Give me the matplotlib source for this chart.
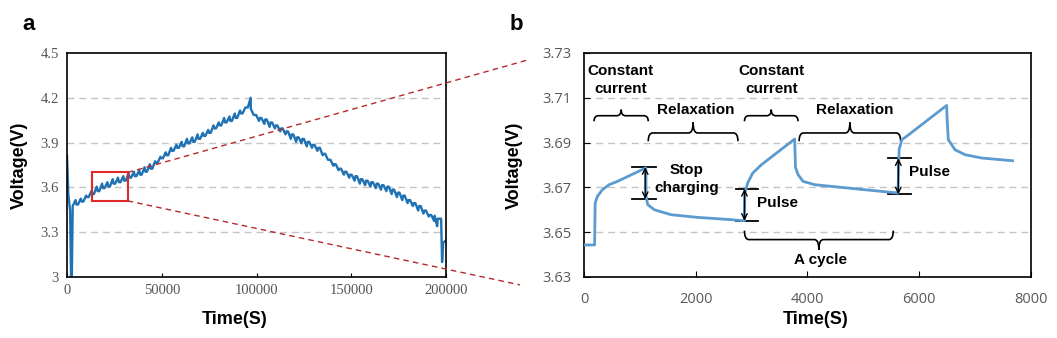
import numpy as np
import matplotlib
matplotlib.use('Agg')
import matplotlib.pyplot as plt
from matplotlib.path import Path
from matplotlib.patches import PathPatch, Rectangle

# ---------------- panel a: full charge / discharge ----------------
head_t = [0, 700, 1600, 2200, 2500]
head_v = [3.81, 3.55, 3.45, 2.95, 2.95]

charge_start = 3000
cycle_period = 2800
charge_low = [3.475, 3.485, 3.505, 3.535, 3.555, 3.575, 3.595, 3.605, 3.625, 3.635,
              3.645, 3.665, 3.675, 3.685, 3.705, 3.725, 3.765, 3.795, 3.815, 3.845,
              3.865, 3.875, 3.895, 3.905, 3.925, 3.945, 3.965, 3.995, 4.015, 4.035,
              4.045, 4.065, 4.095, 4.135]
charge_high = [3.515, 3.525, 3.545, 3.575, 3.605, 3.625, 3.635, 3.655, 3.665, 3.675,
               3.695, 3.705, 3.715, 3.735, 3.755, 3.775, 3.805, 3.835, 3.865, 3.885,
               3.905, 3.925, 3.935, 3.955, 3.965, 3.985, 4.015, 4.035, 4.065, 4.075,
               4.095, 4.115, 4.135, 4.20]

discharge_start = 97000
discharge_high = [4.125, 4.085, 4.065, 4.055, 4.035, 4.015, 3.995, 3.975, 3.955, 3.935,
                  3.925, 3.905, 3.885, 3.865, 3.825, 3.785, 3.755, 3.725, 3.705, 3.685,
                  3.675, 3.655, 3.645, 3.635, 3.625, 3.615, 3.605, 3.585, 3.565, 3.545,
                  3.515, 3.495, 3.475, 3.445, 3.415]
discharge_low = [4.085, 4.045, 4.025, 4.005, 3.995, 3.975, 3.955, 3.925, 3.905, 3.895,
                 3.875, 3.865, 3.845, 3.815, 3.785, 3.745, 3.715, 3.685, 3.665, 3.645,
                 3.625, 3.615, 3.605, 3.595, 3.585, 3.575, 3.555, 3.535, 3.515, 3.495,
                 3.475, 3.445, 3.425, 3.405, 3.375]

tail_t = [194000, 195300, 195600, 197400, 197900, 198500, 200000]
tail_v = [3.41, 3.34, 3.39, 3.39, 3.10, 3.23, 3.245]

# ---------------- panel b: zoom on a few pulses ----------------
zoom_t = [0, 190, 200, 240, 330, 450, 600, 1107, 1112, 1140, 1260, 1560, 2040,
          2630, 2870, 2880, 2930, 3020, 3170, 3770, 3785, 3830, 3920, 4130,
          4730, 5330, 5620, 5640, 5690, 5810, 6490, 6500, 6520, 6640, 6820,
          7120, 7670]
zoom_v = [3.6443, 3.6443, 3.6630, 3.6660, 3.6690, 3.6712, 3.6727, 3.6787,
          3.6660, 3.6623, 3.6600, 3.6578, 3.6566, 3.6556, 3.6551, 3.6675,
          3.6720, 3.6764, 3.6800, 3.6916, 3.6790, 3.6757, 3.6727, 3.6712,
          3.6697, 3.6682, 3.6675, 3.6870, 3.6913, 3.6935, 3.7066, 3.7000,
          3.6913, 3.6868, 3.6846, 3.6831, 3.6819]


def build_overview():
    t, v = list(head_t), list(head_v)
    n = len(charge_low)
    for i in range(n):
        t0 = charge_start + i * cycle_period
        t += [t0, t0 + 1500]
        v += [charge_low[i], charge_high[i]]
        if i < n - 1:
            t.append(t0 + 2000)
            v.append(charge_low[i + 1])
    n = len(discharge_high)
    for j in range(n):
        t0 = discharge_start + j * cycle_period
        t += [t0, t0 + 1500]
        v += [discharge_high[j], discharge_low[j]]
        if j < n - 1:
            t.append(t0 + 2000)
            v.append(discharge_high[j + 1])
    t += tail_t
    v += tail_v
    return t, v


def brace(ax, x0, x1, y_end, y_bar, y_tip, d=80):
    xc = (x0 + x1) / 2
    verts = [(x0, y_end), (x0, y_bar), (x0 + d, y_bar), (xc - d, y_bar),
             (xc, y_bar), (xc, y_tip), (xc, y_bar), (xc + d, y_bar),
             (x1 - d, y_bar), (x1, y_bar), (x1, y_end)]
    codes = [Path.MOVETO, Path.CURVE3, Path.CURVE3, Path.LINETO,
             Path.CURVE3, Path.CURVE3, Path.CURVE3, Path.CURVE3,
             Path.LINETO, Path.CURVE3, Path.CURVE3]
    ax.add_patch(PathPatch(Path(verts, codes), fill=False, lw=1.2,
                           edgecolor='black'))


def pulse_marker(ax, x0, x1, xa, y_top, y_bot):
    ax.plot([x0, x1], [y_top, y_top], color='black', lw=1.3)
    ax.plot([x0, x1], [y_bot, y_bot], color='black', lw=1.3)
    ax.annotate('', xy=(xa, y_top), xytext=(xa, y_bot),
                arrowprops=dict(arrowstyle='<->', lw=1.0, color='black',
                                shrinkA=0, shrinkB=0))


bold = dict(family='Liberation Sans', weight='bold')
grid_kw = dict(color='#c4c4c4', lw=1.0, ls=(0, (5, 3.5)))

fig = plt.figure(figsize=(10.57, 3.38), dpi=100)
ax1 = fig.add_axes([0.0634, 0.1805, 0.3586, 0.6627])
ax2 = fig.add_axes([0.5525, 0.1805, 0.4229, 0.6627])

# panel a
ot, ov = build_overview()
ax1.plot(ot, ov, color='#1f72b4', lw=1.7)
ax1.set_xlim(0, 200000)
ax1.set_ylim(3.0, 4.5)
ax1.set_xticks([0, 50000, 100000, 150000, 200000])
ax1.set_yticks([3.0, 3.3, 3.6, 3.9, 4.2, 4.5])
ax1.set_yticklabels(['3', '3.3', '3.6', '3.9', '4.2', '4.5'])
for y in [3.3, 3.6, 3.9, 4.2]:
    ax1.axhline(y, zorder=0, **grid_kw)
ax1.tick_params(axis='x', direction='in', length=3, pad=5, labelsize=10.5,
                labelcolor='#555555')
ax1.tick_params(axis='y', length=0, pad=6, labelsize=10.5, labelcolor='#555555')
for lab in ax1.get_xticklabels() + ax1.get_yticklabels():
    lab.set_family('Liberation Serif')
ax1.set_xlabel('Time(S)', fontsize=13, **bold)
ax1.set_ylabel('Voltage(V)', fontsize=13, **bold)
ax1.xaxis.set_label_coords(0.443, -0.15)
ax1.yaxis.set_label_coords(-0.102, 0.5)

ax1.add_patch(Rectangle((13100, 3.51), 18900, 0.19, fill=False,
                        edgecolor='#e02a2a', lw=1.5, zorder=4))
ax1.plot([32000, 242700], [3.70, 4.452], color='#b52a2a', lw=1.0,
         ls=(0, (4, 3)), clip_on=False, zorder=5)
ax1.plot([32000, 239000], [3.51, 2.947], color='#b52a2a', lw=1.0,
         ls=(0, (4, 3)), clip_on=False, zorder=5)

# panel b
ax2.plot(zoom_t, zoom_v, color='#5b9bd0', lw=2.0, zorder=3)
ax2.set_xlim(0, 8000)
ax2.set_ylim(3.63, 3.73)
ax2.set_xticks([0, 2000, 4000, 6000, 8000])
ax2.set_yticks([3.63, 3.65, 3.67, 3.69, 3.71, 3.73])
ax2.set_yticklabels(['3.63', '3.65', '3.67', '3.69', '3.71', '3.73'])
for y in [3.65, 3.67, 3.69, 3.71]:
    ax2.axhline(y, zorder=0, **grid_kw)
ax2.tick_params(direction='in', length=4, labelsize=10.5, labelcolor='#595959')
ax2.tick_params(axis='x', pad=11)
ax2.tick_params(axis='y', pad=9)
for lab in ax2.get_xticklabels() + ax2.get_yticklabels():
    lab.set_family('Open Sans')
ax2.set_xlabel('Time(S)', fontsize=13, **bold)
ax2.set_ylabel('Voltage(V)', fontsize=13, **bold)
ax2.xaxis.set_label_coords(0.519, -0.15)
ax2.yaxis.set_label_coords(-0.136, 0.5)

for ax in (ax1, ax2):
    for s in ax.spines.values():
        s.set_linewidth(1.2)
        s.set_color('black')

brace(ax2, 180, 1150, 3.6995, 3.7020, 3.7047)
brace(ax2, 1150, 2755, 3.6906, 3.6943, 3.6990)
brace(ax2, 2872, 3830, 3.6995, 3.7020, 3.7047)
brace(ax2, 3850, 5667, 3.6906, 3.6943, 3.6990)
brace(ax2, 2872, 5535, 3.6507, 3.6467, 3.6422)

ax2.text(658, 3.7178, 'Constant\ncurrent', ha='center', va='center',
         fontsize=11, linespacing=1.35, **bold)
ax2.text(3351, 3.7178, 'Constant\ncurrent', ha='center', va='center',
         fontsize=11, linespacing=1.35, **bold)
ax2.text(2005, 3.7044, 'Relaxation', ha='center', va='center', fontsize=11, **bold)
ax2.text(4847, 3.7044, 'Relaxation', ha='center', va='center', fontsize=11, **bold)
ax2.text(1843, 3.6739, 'Stop\ncharging', ha='center', va='center',
         fontsize=11, linespacing=1.35, **bold)
ax2.text(3100, 3.6630, 'Pulse', ha='left', va='center', fontsize=11, **bold)
ax2.text(5822, 3.6767, 'Pulse', ha='left', va='center', fontsize=11, **bold)
ax2.text(4237, 3.6377, 'A cycle', ha='center', va='center', fontsize=11, **bold)

pulse_marker(ax2, 868, 1287, 1095, 3.6790, 3.6648)
pulse_marker(ax2, 2723, 3112, 2872, 3.6693, 3.6551)
pulse_marker(ax2, 5445, 5852, 5625, 3.6830, 3.6669)

fig.text(22 / 1057, 1 - 25 / 338, 'a', fontsize=16, ha='left', va='center', **bold)
fig.text(510 / 1057, 1 - 25 / 338, 'b', fontsize=16, ha='left', va='center', **bold)

fig.savefig('out.png', dpi=100)
